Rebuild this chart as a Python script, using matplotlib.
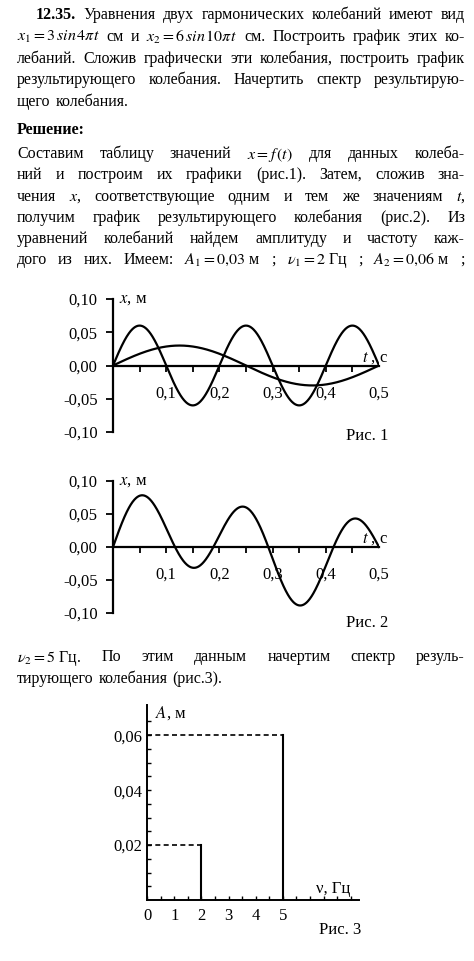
import matplotlib
matplotlib.use('Agg')
import matplotlib.pyplot as plt
import numpy as np

plt.rcParams['font.family'] = ['Liberation Serif', 'DejaVu Serif']
plt.rcParams['mathtext.fontset'] = 'stix'

# данные: амплитуды (м) и частоты (Гц) двух колебаний
amps = [0.03, 0.06]
freqs = [2, 5]
# спектр как на рис.3
spec_nu = [2, 5]
spec_A = [0.02, 0.06]
t_labels = ['0,1', '0,2', '0,3', '0,4', '0,5']
t_ticks = [0.1, 0.2, 0.3, 0.4, 0.5]
x_ticks = [-0.10, -0.05, 0.0, 0.05, 0.10]
x_tlabels = ['-0,10', '-0,05', '0,00', '0,05', '0,10']

W, H = 474, 961
fig = plt.figure(figsize=(W / 100, H / 100), dpi=100)
FS = 11.5


def px(x, y):
    return x / W, 1 - y / H


def jline(tokens, y, x0=17, x1=465, justify=True, bold=()):
    r = fig.canvas.get_renderer()
    objs = []
    for i, tok in enumerate(tokens):
        o = fig.text(0, 0, tok, fontsize=FS, va='center_baseline',
                     fontweight='bold' if i in bold else 'normal')
        objs.append(o)
    widths = [o.get_window_extent(r).width for o in objs]
    if justify and len(tokens) > 1:
        gap = (x1 - x0 - sum(widths)) / (len(tokens) - 1)
    else:
        gap = 5
    x = x0
    for o, w in zip(objs, widths):
        o.set_position(px(x, y))
        x += w + gap


jline(['12.35.', 'Уравнения', 'двух', 'гармонических', 'колебаний', 'имеют', 'вид'], 13, x0=36, bold=(0,))
jline([r'$x_1 = 3\,sin\,4\pi t$', 'см', 'и', r'$x_2 = 6\,sin\,10\pi t$', 'см.', 'Построить', 'график', 'этих', 'ко-'], 35)
jline(['лебаний.', 'Сложив', 'графически', 'эти', 'колебания,', 'построить', 'график'], 57)
jline(['результирующего', 'колебания.', 'Начертить', 'спектр', 'результирую-'], 78)
jline(['щего', 'колебания.'], 100, justify=False)
jline(['Решение:'], 128, justify=False, bold=(0,))
jline(['Составим', 'таблицу', 'значений', r'$x = f\,(t)$', 'для', 'данных', 'колеба-'], 152)
jline(['ний', 'и', 'построим', 'их', 'графики', '(рис.1).', 'Затем,', 'сложив', 'зна-'], 173)
jline(['чения', r'$x$,', 'соответствующие', 'одним', 'и', 'тем', 'же', 'значениям', r'$t$,'], 195)
jline(['получим', 'график', 'результирующего', 'колебания', '(рис.2).', 'Из'], 216)
jline(['уравнений', 'колебаний', 'найдем', 'амплитуду', 'и', 'частоту', 'каж-'], 237)
jline(['дого', 'из', 'них.', 'Имеем:', r'$A_1 = 0{,}03$ м', ';', r'$\nu_1 = 2$ Гц', ';', r'$A_2 = 0{,}06$ м', ';'], 258)
jline([r'$\nu_2 = 5$ Гц.', 'По', 'этим', 'данным', 'начертим', 'спектр', 'резуль-'], 655)
jline(['тирующего', 'колебания', '(рис.3).'], 677, justify=False)

t = np.linspace(0, 0.5, 600)
curves = [a * np.sin(2 * np.pi * f * t) for a, f in zip(amps, freqs)]


def osc_axes(top, bottom, series):
    l, b = px(113, bottom)
    ax = fig.add_axes([l, b, 266 / W, (bottom - top) / H])
    for s in series:
        ax.plot(t, s, color='black', lw=1.6)
    ax.set_xlim(0, 0.5)
    ax.set_ylim(-0.10, 0.10)
    for sp in ['top', 'right']:
        ax.spines[sp].set_visible(False)
    ax.spines['bottom'].set_position(('data', 0))
    ax.spines['bottom'].set_linewidth(1.6)
    ax.spines['left'].set_linewidth(1.6)
    ax.set_xticks(np.arange(0.05, 0.5, 0.05))
    ax.tick_params(axis='x', length=4, width=1.3, labelbottom=False)
    ax.set_yticks(x_ticks)
    ax.set_yticklabels(x_tlabels, fontsize=12)
    ax.tick_params(axis='y', length=5, width=1.3, pad=6)
    for tv, tl in zip(t_ticks, t_labels):
        ax.text(tv, -0.042, tl, ha='center', va='center', fontsize=12)
    ax.text(0.012, 0.10, r'$x$, м', fontsize=12, va='center')
    ax.text(0.468, 0.012, r'$t$ , с', fontsize=12, va='center')
    ax.patch.set_alpha(0)


osc_axes(299, 432, curves)
fig.text(*px(367, 436), 'Рис. 1', fontsize=12, ha='center', va='center')
osc_axes(481, 613, [curves[0] + curves[1]])
fig.text(*px(367, 623), 'Рис. 2', fontsize=12, ha='center', va='center')

# рис.3 — спектр
l, b = px(147, 900)
ax3 = fig.add_axes([l, b, 212 / W, 195 / H])
ax3.set_xlim(0, 7.8)
ax3.set_ylim(0, 0.071)
for sp in ['top', 'right']:
    ax3.spines[sp].set_visible(False)
ax3.spines['left'].set_linewidth(1.4)
ax3.spines['bottom'].set_linewidth(1.4)
for nu, A in zip(spec_nu, spec_A):
    ax3.plot([nu, nu], [0, A], color='black', lw=1.5)
    ax3.plot([0, nu], [A, A], color='black', lw=1.2, ls=(0, (3, 2)))
ax3.set_xticks([0, 1, 2, 3, 4, 5])
ax3.set_xticklabels(['0', '1', '2', '3', '4', '5'], fontsize=12)
ax3.set_xticks(np.arange(0.5, 7.6, 0.5), minor=True)
ax3.set_yticks([0.02, 0.04, 0.06])
ax3.set_yticklabels(['0,02', '0,04', '0,06'], fontsize=12)
ax3.set_yticks(np.arange(0.005, 0.07, 0.005), minor=True)
ax3.tick_params(which='both', direction='in', length=3, width=1)
ax3.tick_params(axis='x', pad=6)
ax3.text(0.3, 0.068, r'$A$, м', fontsize=12, va='center')
ax3.text(6.2, 0.004, 'ν, Гц', fontsize=12, va='center')
ax3.patch.set_alpha(0)
fig.text(*px(340, 930), 'Рис. 3', fontsize=12, ha='center', va='center')

fig.savefig('out.png', dpi=100)
